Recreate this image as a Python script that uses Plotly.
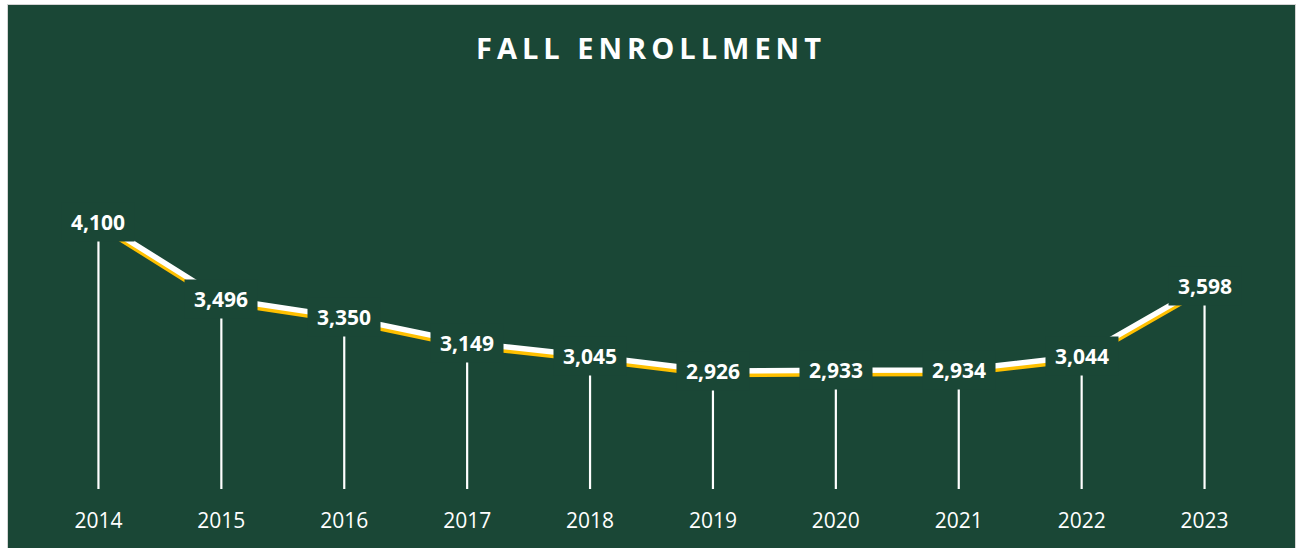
import plotly.graph_objects as go

# ---- data ----
years = ["2014", "2015", "2016", "2017", "2018", "2019", "2020", "2021", "2022", "2023"]
enrollment = [4100, 3496, 3350, 3149, 3045, 2926, 2933, 2934, 3044, 3598]
chart_title = "FALL ENROLLMENT"

# ---- styling / layout constants ----
BG = "#1A4736"
WHITE = "#FFFFFF"
GOLD = "#FFC000"
BORDER = "#D4D4D4"
FONT = "Open Sans"
W, H = 1296, 548
ML, MR, MT, MB = 37, 30, 107, 59
Y_MIN, Y_MAX = 2000, 5000
SHADOW_PX = 3.5
plot_w = W - ML - MR
plot_h = H - MT - MB
shadow_units = SHADOW_PX * (Y_MAX - Y_MIN) / plot_h


def px_x(p):
    return (p - ML) / plot_w


def px_y(p):
    return (H - MB - p) / plot_h


fig = go.Figure()

# gold shadow line (drawn on base axis whose range is shifted -> appears lower)
fig.add_trace(go.Scatter(
    x=years, y=enrollment, mode="lines", yaxis="y",
    line=dict(color=GOLD, width=5.5), hoverinfo="skip", showlegend=False,
))

# white line with drop lines to the axis
fig.add_trace(go.Scatter(
    x=years, y=enrollment, mode="lines", yaxis="y2",
    line=dict(color=WHITE, width=5.5), showlegend=False,
    error_y=dict(type="data", symmetric=False,
                 array=[0] * len(enrollment),
                 arrayminus=[v - Y_MIN for v in enrollment],
                 color=WHITE, thickness=2.2, width=0),
))

annotations = []
for i, v in enumerate(enrollment):
    annotations.append(dict(
        x=i, y=v, xref="x", yref="y2", text=f"{v:,}", showarrow=False,
        font=dict(family=FONT, size=21, color=WHITE, weight="bold"),
        bgcolor=BG, width=72, height=38, borderpad=0,
        xanchor="center", yanchor="middle",
    ))

shapes = [
    # white page edges outside the chart frame
    dict(type="rect", xref="paper", yref="paper", x0=px_x(-5), x1=px_x(7),
         y0=px_y(H + 5), y1=px_y(-5), fillcolor=WHITE, line=dict(width=0), layer="above"),
    dict(type="rect", xref="paper", yref="paper", x0=px_x(-5), x1=px_x(W + 5),
         y0=px_y(4), y1=px_y(-5), fillcolor=WHITE, line=dict(width=0), layer="above"),
    # light grey frame
    dict(type="line", xref="paper", yref="paper", x0=px_x(7.5), x1=px_x(7.5),
         y0=px_y(4), y1=px_y(H + 5), line=dict(color=BORDER, width=1), layer="above"),
    dict(type="line", xref="paper", yref="paper", x0=px_x(7), x1=px_x(W),
         y0=px_y(4.5), y1=px_y(4.5), line=dict(color=BORDER, width=1), layer="above"),
    dict(type="line", xref="paper", yref="paper", x0=px_x(1295.5), x1=px_x(1295.5),
         y0=px_y(4), y1=px_y(H + 5), line=dict(color=BORDER, width=1), layer="above"),
]

fig.update_layout(
    width=W, height=H,
    margin=dict(l=ML, r=MR, t=MT, b=MB, pad=0),
    paper_bgcolor=BG, plot_bgcolor=BG,
    title=dict(text=chart_title, x=651 / W, xref="container", xanchor="center",
               y=1 - 49 / H, yref="container", yanchor="middle",
               font=dict(family=FONT, size=29, color=WHITE, weight="bold")),
    xaxis=dict(type="category", range=[-0.5, len(years) - 0.5],
               showgrid=False, zeroline=False, showline=False,
               ticks="outside", ticklen=13, tickcolor="rgba(0,0,0,0)",
               tickfont=dict(family=FONT, size=21, color=WHITE)),
    yaxis=dict(range=[Y_MIN + shadow_units, Y_MAX + shadow_units], visible=False,
               showgrid=False, zeroline=False),
    yaxis2=dict(range=[Y_MIN, Y_MAX], overlaying="y", visible=False,
                showgrid=False, zeroline=False),
    annotations=annotations,
    shapes=shapes,
    showlegend=False,
)

post = """
document.body.style.margin = '0';
document.body.style.padding = '0';
var gd = document.getElementById('{plot_id}');
function spaceTitle(){
  gd.querySelectorAll('.gtitle').forEach(function(e){ e.setAttribute('letter-spacing', '5px'); });
}
spaceTitle();
if (gd.on) { gd.on('plotly_afterplot', spaceTitle); }
"""

fig.write_html("out.html", post_script=post, config={"displayModeBar": False})
